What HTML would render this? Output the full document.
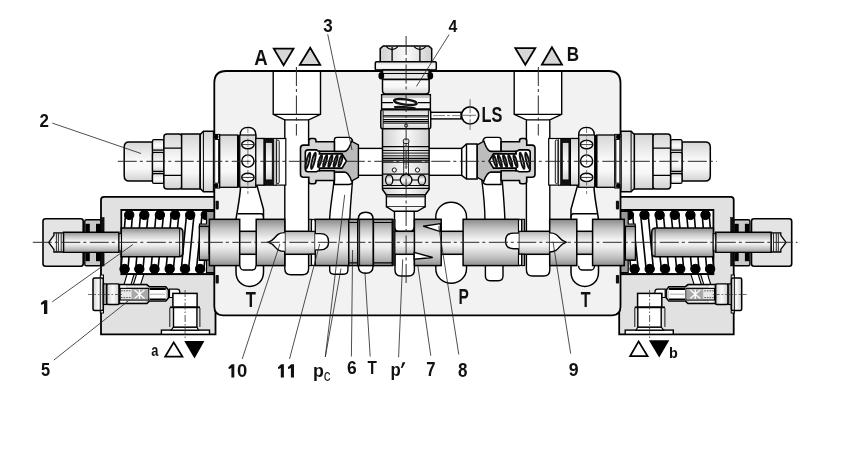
<!DOCTYPE html>
<html><head><meta charset="utf-8"><style>
html,body{margin:0;padding:0;background:#fff;}
svg{display:block;will-change:transform;}
text{font-family:"Liberation Sans",sans-serif;font-weight:bold;fill:#111;}
</style></head><body>
<svg width="849" height="457" viewBox="0 0 849 457">
<defs>
<linearGradient id="gc" x1="0" y1="0" x2="0" y2="1">
<stop offset="0" stop-color="#8a8a8a"/><stop offset="0.2" stop-color="#c4c4c4"/><stop offset="0.45" stop-color="#f6f6f6"/><stop offset="0.6" stop-color="#eeeeee"/><stop offset="0.85" stop-color="#bbbbbb"/><stop offset="1" stop-color="#8e8e8e"/>
</linearGradient>
<linearGradient id="gl" x1="0" y1="0" x2="0" y2="1">
<stop offset="0" stop-color="#d6d6d6"/><stop offset="0.5" stop-color="#fbfbfb"/><stop offset="0.7" stop-color="#f7f7f7"/><stop offset="1" stop-color="#d2d2d2"/>
</linearGradient>
<linearGradient id="gv" x1="0" y1="0" x2="1" y2="0">
<stop offset="0" stop-color="#cfcfcf"/><stop offset="0.5" stop-color="#fbfbfb"/><stop offset="1" stop-color="#cfcfcf"/>
</linearGradient>
<linearGradient id="gn" x1="0" y1="0" x2="0" y2="1">
<stop offset="0" stop-color="#b4b4b4"/><stop offset="0.25" stop-color="#dcdcdc"/><stop offset="0.5" stop-color="#f8f8f8"/><stop offset="0.62" stop-color="#f2f2f2"/><stop offset="0.85" stop-color="#cfcfcf"/><stop offset="1" stop-color="#adadad"/>
</linearGradient>
</defs>

<!-- housings -->
<g stroke="#000">
<path d="M101,334.3 V199.8 Q101,196.8 104,196.8 H215.5 V334.3 Z" fill="#e1e1e1" stroke-width="1.8"/>
<!-- spring bore -->
<rect x="121.3" y="209.9" width="94" height="64.3" fill="#fff" stroke-width="1.8"/>
<!-- strands -->
<g fill="#fff" stroke-width="1.6">
<path d="M125.5,215 L132.5,215 L128,269 L121,269 Z"/>
<path d="M140.5,215 L148,215 L143,269 L135.7,269 Z"/>
<path d="M156,215 L163.5,215 L158,269 L151,269 Z"/>
<path d="M171.3,215 L178.8,215 L173.4,269 L166,269 Z"/>
<path d="M186.5,215 L194,215 L188.6,269 L181.3,269 Z"/>
<path d="M202,215 L209.5,215 L203.8,269 L196.5,269 Z"/>
</g>
<g fill="#000">
<circle cx="129.2" cy="214.9" r="4.7"/><circle cx="144.3" cy="214.9" r="4.7"/><circle cx="159.9" cy="214.9" r="4.7"/>
<circle cx="175.1" cy="214.9" r="4.7"/><circle cx="190.2" cy="214.9" r="4.7"/><circle cx="205.8" cy="214.9" r="4.7"/>
<circle cx="124.6" cy="269" r="4.7"/><circle cx="139.3" cy="269" r="4.7"/><circle cx="154.5" cy="269" r="4.7"/>
<circle cx="169.7" cy="269" r="4.7"/><circle cx="185" cy="269" r="4.7"/><circle cx="200.1" cy="269" r="4.7"/>
</g>
<path d="M121.3,209.9 H215 M121.3,274.2 H215" stroke-width="1.8"/>
<!-- spring seat washer -->
<path d="M206.5,211.5 H215 V228 H199.5 V224 H206.5 Z" fill="#9a9a9a" stroke-width="1.2"/>
<path d="M206.5,272.5 H215 V256.5 H199.5 V260.5 H206.5 Z" fill="#9a9a9a" stroke-width="1.2"/>
<rect x="199.3" y="226.3" width="10" height="33.7" fill="url(#gc)" stroke-width="1.3"/>
<!-- retainer -->
<path d="M121.3,228 H179 Q182.9,228 182.9,232 V252.7 Q182.9,256.7 179,256.7 H121.3 Z" fill="url(#gc)" stroke-width="1.5"/>
<path d="M179.6,228.5 V256.2" stroke-width="0.9"/>
<!-- cap nut -->
<rect x="43" y="218.8" width="40.2" height="47.4" rx="2.5" fill="#e4e4e4" stroke-width="1.6"/>
<!-- rod end inside cap -->
<path d="M48.7,242.4 L53.9,235.4 V232.8 H63.6 V252 H53.9 V249.4 Z" fill="url(#gl)" stroke-width="1.3"/>
<path d="M56.4,233.2 V251.6 M58.4,233.2 V251.6 M61.2,233.2 V251.6" stroke-width="0.8"/>
<!-- seal piece -->
<rect x="84.8" y="219.7" width="16" height="46" rx="1.5" fill="#c9c9c9" stroke-width="1.4"/>
<rect x="85.5" y="223.8" width="4.3" height="8.2" fill="#000" stroke-width="0"/>
<rect x="96" y="223.8" width="4.3" height="8.2" fill="#000" stroke-width="0"/>
<rect x="85.5" y="253" width="4.3" height="8.2" fill="#000" stroke-width="0"/>
<rect x="96" y="253" width="4.3" height="8.2" fill="#000" stroke-width="0"/>
<rect x="100.8" y="217.5" width="3.3" height="14.7" fill="#111" stroke-width="0.5"/>
<rect x="100.8" y="252.4" width="3.3" height="13.6" fill="#111" stroke-width="0.5"/>
<!-- rod -->
<path d="M119,232.2 H63.6 V252.4 H119 Z" fill="url(#gc)" stroke-width="1.4"/>
<rect x="119" y="233.5" width="2.5" height="17.6" fill="url(#gc)" stroke-width="1"/>
<!-- diagonal passages -->
<path d="M127,274.5 H134 L131,284.5 H124 Z M136.5,274.5 H143.8 L140.6,284.5 H133.4 Z" fill="#fff" stroke-width="1.1"/>
<!-- pilot valve (item 5) -->
<rect x="100.3" y="275" width="3.2" height="38" fill="#f0f0f0" stroke-width="1"/>
<rect x="93" y="278" width="10.3" height="32.4" rx="1.5" fill="url(#gv)" stroke-width="1.5"/>
<path d="M100.3,278.5 V310" stroke-width="0.9"/>
<rect x="103.3" y="283.9" width="3.5" height="20.6" fill="#999" stroke-width="1.2"/>
<rect x="106.8" y="283.9" width="12.4" height="20.6" rx="1.5" fill="url(#gv)" stroke-width="1.4"/>
<path d="M119.2,284.6 H146.8 L149.5,286.8 H165.8 L168.5,290 V298 L165.8,301 H149.5 L146.8,303.6 H119.2 Z" fill="#c8c8c8" stroke-width="1.5"/>
<rect x="121" y="285.7" width="5.2" height="2" fill="#fff" stroke-width="0"/>
<rect x="121" y="300.3" width="5.2" height="2" fill="#fff" stroke-width="0"/>
<path d="M127.5,286.6 H146 M127.5,301.6 H146" stroke="#f2f2f2" stroke-width="1"/>
<rect x="120.2" y="288.4" width="28.6" height="11.6" fill="#e8e8e8" stroke-width="1.1"/>
<path d="M121,290.8 H131 M121,297.6 H131" stroke="#444" stroke-width="0.9" stroke-dasharray="1.6,1"/>
<rect x="131.5" y="289.2" width="16.5" height="10" fill="#a9a9a9" stroke-width="0"/>
<path d="M134.5,290 L144.5,298.4 M134.5,298.4 L144.5,290 M139.5,289.5 V299" stroke="#fff" stroke-width="1.3"/>
<rect x="149.5" y="288.2" width="16.3" height="12" fill="#fff" stroke-width="0"/>
<path d="M149.5,289 H165.8 M149.5,299.4 H165.8" stroke-width="1.8"/>
<path d="M150,294.2 H165" stroke="#999" stroke-width="0.8"/>
<!-- passage to port -->
<path d="M169.5,289.2 H177 Q179.8,289.2 179.8,292 V293.6 H173 V297.5 H169.5 Z" fill="#fff" stroke-width="1.2"/>
<!-- port a -->
<rect x="161.4" y="330.1" width="48.1" height="4.2" fill="#fff" stroke-width="1.4"/>
<path d="M171,330.1 L173.5,327.1 H196.9 L198.7,330.1 Z" fill="#fff" stroke-width="1.1"/>
<rect x="173.5" y="307.3" width="23.4" height="19.8" fill="#fff" stroke-width="1.4"/>
<path d="M169.8,308 V327 M199.9,308 V327" stroke-width="0.9"/>
<rect x="172.9" y="293.4" width="24.2" height="13.9" fill="#fff" stroke-width="1.5"/>
<path d="M169.8,307.3 H200" stroke-width="1.8"/>
<path d="M185.1,290 V338" stroke="#333" stroke-width="0.8" stroke-dasharray="7,2,1.5,2"/>
<path d="M88,294.5 H122" stroke="#333" stroke-width="0.7" stroke-dasharray="8,2,1.5,2"/>
</g>
<g transform="matrix(-1,0,0,1,834.7,0)" stroke="#000">
<path d="M101,334.3 V199.8 Q101,196.8 104,196.8 H215.5 V334.3 Z" fill="#e1e1e1" stroke-width="1.8"/>
<!-- spring bore -->
<rect x="121.3" y="209.9" width="94" height="64.3" fill="#fff" stroke-width="1.8"/>
<!-- strands -->
<g fill="#fff" stroke-width="1.6">
<path d="M125.5,215 L132.5,215 L128,269 L121,269 Z"/>
<path d="M140.5,215 L148,215 L143,269 L135.7,269 Z"/>
<path d="M156,215 L163.5,215 L158,269 L151,269 Z"/>
<path d="M171.3,215 L178.8,215 L173.4,269 L166,269 Z"/>
<path d="M186.5,215 L194,215 L188.6,269 L181.3,269 Z"/>
<path d="M202,215 L209.5,215 L203.8,269 L196.5,269 Z"/>
</g>
<g fill="#000">
<circle cx="129.2" cy="214.9" r="4.7"/><circle cx="144.3" cy="214.9" r="4.7"/><circle cx="159.9" cy="214.9" r="4.7"/>
<circle cx="175.1" cy="214.9" r="4.7"/><circle cx="190.2" cy="214.9" r="4.7"/><circle cx="205.8" cy="214.9" r="4.7"/>
<circle cx="124.6" cy="269" r="4.7"/><circle cx="139.3" cy="269" r="4.7"/><circle cx="154.5" cy="269" r="4.7"/>
<circle cx="169.7" cy="269" r="4.7"/><circle cx="185" cy="269" r="4.7"/><circle cx="200.1" cy="269" r="4.7"/>
</g>
<path d="M121.3,209.9 H215 M121.3,274.2 H215" stroke-width="1.8"/>
<!-- spring seat washer -->
<path d="M206.5,211.5 H215 V228 H199.5 V224 H206.5 Z" fill="#9a9a9a" stroke-width="1.2"/>
<path d="M206.5,272.5 H215 V256.5 H199.5 V260.5 H206.5 Z" fill="#9a9a9a" stroke-width="1.2"/>
<rect x="199.3" y="226.3" width="10" height="33.7" fill="url(#gc)" stroke-width="1.3"/>
<!-- retainer -->
<path d="M121.3,228 H179 Q182.9,228 182.9,232 V252.7 Q182.9,256.7 179,256.7 H121.3 Z" fill="url(#gc)" stroke-width="1.5"/>
<path d="M179.6,228.5 V256.2" stroke-width="0.9"/>
<!-- cap nut -->
<rect x="43" y="218.8" width="40.2" height="47.4" rx="2.5" fill="#e4e4e4" stroke-width="1.6"/>
<!-- rod end inside cap -->
<path d="M48.7,242.4 L53.9,235.4 V232.8 H63.6 V252 H53.9 V249.4 Z" fill="url(#gl)" stroke-width="1.3"/>
<path d="M56.4,233.2 V251.6 M58.4,233.2 V251.6 M61.2,233.2 V251.6" stroke-width="0.8"/>
<!-- seal piece -->
<rect x="84.8" y="219.7" width="16" height="46" rx="1.5" fill="#c9c9c9" stroke-width="1.4"/>
<rect x="85.5" y="223.8" width="4.3" height="8.2" fill="#000" stroke-width="0"/>
<rect x="96" y="223.8" width="4.3" height="8.2" fill="#000" stroke-width="0"/>
<rect x="85.5" y="253" width="4.3" height="8.2" fill="#000" stroke-width="0"/>
<rect x="96" y="253" width="4.3" height="8.2" fill="#000" stroke-width="0"/>
<rect x="100.8" y="217.5" width="3.3" height="14.7" fill="#111" stroke-width="0.5"/>
<rect x="100.8" y="252.4" width="3.3" height="13.6" fill="#111" stroke-width="0.5"/>
<!-- rod -->
<path d="M119,232.2 H63.6 V252.4 H119 Z" fill="url(#gc)" stroke-width="1.4"/>
<rect x="119" y="233.5" width="2.5" height="17.6" fill="url(#gc)" stroke-width="1"/>
<!-- diagonal passages -->
<path d="M127,274.5 H134 L131,284.5 H124 Z M136.5,274.5 H143.8 L140.6,284.5 H133.4 Z" fill="#fff" stroke-width="1.1"/>
<!-- pilot valve (item 5) -->
<rect x="100.3" y="275" width="3.2" height="38" fill="#f0f0f0" stroke-width="1"/>
<rect x="93" y="278" width="10.3" height="32.4" rx="1.5" fill="url(#gv)" stroke-width="1.5"/>
<path d="M100.3,278.5 V310" stroke-width="0.9"/>
<rect x="103.3" y="283.9" width="3.5" height="20.6" fill="#999" stroke-width="1.2"/>
<rect x="106.8" y="283.9" width="12.4" height="20.6" rx="1.5" fill="url(#gv)" stroke-width="1.4"/>
<path d="M119.2,284.6 H146.8 L149.5,286.8 H165.8 L168.5,290 V298 L165.8,301 H149.5 L146.8,303.6 H119.2 Z" fill="#c8c8c8" stroke-width="1.5"/>
<rect x="121" y="285.7" width="5.2" height="2" fill="#fff" stroke-width="0"/>
<rect x="121" y="300.3" width="5.2" height="2" fill="#fff" stroke-width="0"/>
<path d="M127.5,286.6 H146 M127.5,301.6 H146" stroke="#f2f2f2" stroke-width="1"/>
<rect x="120.2" y="288.4" width="28.6" height="11.6" fill="#e8e8e8" stroke-width="1.1"/>
<path d="M121,290.8 H131 M121,297.6 H131" stroke="#444" stroke-width="0.9" stroke-dasharray="1.6,1"/>
<rect x="131.5" y="289.2" width="16.5" height="10" fill="#a9a9a9" stroke-width="0"/>
<path d="M134.5,290 L144.5,298.4 M134.5,298.4 L144.5,290 M139.5,289.5 V299" stroke="#fff" stroke-width="1.3"/>
<rect x="149.5" y="288.2" width="16.3" height="12" fill="#fff" stroke-width="0"/>
<path d="M149.5,289 H165.8 M149.5,299.4 H165.8" stroke-width="1.8"/>
<path d="M150,294.2 H165" stroke="#999" stroke-width="0.8"/>
<!-- passage to port -->
<path d="M169.5,289.2 H177 Q179.8,289.2 179.8,292 V293.6 H173 V297.5 H169.5 Z" fill="#fff" stroke-width="1.2"/>
<!-- port a -->
<rect x="161.4" y="330.1" width="48.1" height="4.2" fill="#fff" stroke-width="1.4"/>
<path d="M171,330.1 L173.5,327.1 H196.9 L198.7,330.1 Z" fill="#fff" stroke-width="1.1"/>
<rect x="173.5" y="307.3" width="23.4" height="19.8" fill="#fff" stroke-width="1.4"/>
<path d="M169.8,308 V327 M199.9,308 V327" stroke-width="0.9"/>
<rect x="172.9" y="293.4" width="24.2" height="13.9" fill="#fff" stroke-width="1.5"/>
<path d="M169.8,307.3 H200" stroke-width="1.8"/>
<path d="M185.1,290 V338" stroke="#333" stroke-width="0.8" stroke-dasharray="7,2,1.5,2"/>
<path d="M88,294.5 H122" stroke="#333" stroke-width="0.7" stroke-dasharray="8,2,1.5,2"/>
</g>
<!-- main body -->
<path d="M226.3,71 H608.5 Q620.5,71 620.5,83 V306.5 Q620.5,315.3 612,315.3 H223 Q214.3,315.3 214.3,306.5 V83 Q214.3,71 226.3,71 Z" fill="#f2f2f2" stroke="#000" stroke-width="1.8"/>

<!-- cavities -->
<g fill="#fff" stroke="#000" stroke-width="1.4">
<!-- horizontal channel -->
<rect x="340" y="148.4" width="150" height="26.9"/>
<!-- LS channel -->
<rect x="425" y="112.3" width="36" height="6.6"/>
<!-- port A -->
<path d="M273.2,71 V114.4 L284.8,119.9 V268.5 Q284.8,274.8 291,274.8 H302.5 Q308.6,274.8 308.6,268.5 V119.9 L320.5,114.4 V71 Z"/>
<path d="M273.2,114.4 H320.5 M284.8,119.9 H308.6" fill="none"/>
<!-- port B -->
<path d="M514.2,71 V114.4 L526.4,119.9 V269.8 Q526.4,276 532.5,276 H543.7 Q549.8,276 549.8,269.8 V119.9 L561.7,114.4 V71 Z"/>
<path d="M514.2,114.4 H561.7 M526.4,119.9 H549.8" fill="none"/>
<!-- P chamber -->
<rect x="435.8" y="202.3" width="30.7" height="80.9" rx="15.3" ry="14.5"/>
<!-- T capsule -->
<path d="M358.4,219 Q358.4,212.3 365.7,212.3 Q373,212.3 373,219 V266.5 Q373,273.2 365.7,273.2 Q358.4,273.2 358.4,266.5 Z"/>
<!-- stem cavity below -->
<path d="M395,254 V270 Q395,276 401,276 H408.4 Q414.4,276 414.4,270 V254"/>
<!-- small cavities -->
<path d="M329.7,262 V270 Q329.7,274.2 334,274.2 H343.6 Q347.9,274.2 347.9,270 V262"/>
<path d="M485.4,262 V276 Q485.4,280.7 490,280.7 H498.5 Q503,280.7 503,276 V262"/>
<!-- curved channels from check valves -->
<path d="M334.4,176 C333,195 330,205 329.5,222 H349.8 C350,205 352,192 352.7,176 Z"/>
<path d="M481.3,176 C483.5,192 485,205 485,222 H505 C504.5,205 503,192 502,176 Z"/>
</g>

<path d="M262,71 H330 M505,71 H572" stroke="#000" stroke-width="1.8"/>
<!-- check valve left (item 3) -->
<g stroke="#000">
<path d="M334.4,151.5 V140 Q334.4,137.4 337,137.4 H349 Q351.5,137.4 352.5,140.5 L348.5,151.5 Z" fill="#fff" stroke-width="1.4"/>
<path d="M334.4,172 H348.5 L352.5,182 Q351.5,184.5 349,184.5 H334.4 Z" fill="#fff" stroke-width="1.4"/>
<path d="M303.5,145.1 H308.8 V141 Q308.8,138.5 311,138.5 H314 Q316,138.5 316,141 V141.8 H334.4 V180.5 H316 V181.3 Q316,183.8 314,183.8 H311 Q308.8,183.8 308.8,181.3 V177.2 H303.5 Q300.5,177.2 300.5,174.2 V148.1 Q300.5,145.1 303.5,145.1 Z" fill="#d6d6d6" stroke-width="1.6"/>
<path d="M319.4,151.3 H334.4 V151.5 H344 Q348.5,151.5 351.5,141.2 L358.4,144.9 V177.3 L351.5,181 Q348.5,172 344,172 H334.4 V170.7 H319.4 Z" fill="#bcbcbc" stroke-width="1.4"/>
<path d="M308,149.9 H316.5 Q318,151.3 319.4,151.3 V153.9 H342 L346.4,161 L342,168.1 H319.4 V170.7 Q318,170.7 316.5,171.7 H308 Q305.3,171.7 305.3,169 V152.6 Q305.3,149.9 308,149.9 Z" fill="#fff" stroke-width="1.6"/>
<g fill="#e8e8e8" stroke="#111" stroke-width="1.9">
<ellipse cx="307.9" cy="160.8" rx="1.3" ry="8.4" transform="rotate(14 307.9 160.8)"/>
<ellipse cx="313.4" cy="160.8" rx="1.3" ry="8.4" transform="rotate(14 313.4 160.8)"/>
<ellipse cx="320" cy="161" rx="1.1" ry="6.4" transform="rotate(16 320 161)"/>
<ellipse cx="325.2" cy="161" rx="1.1" ry="6.4" transform="rotate(16 325.2 161)"/>
<ellipse cx="330.4" cy="161" rx="1.1" ry="6.4" transform="rotate(16 330.4 161)"/>
<ellipse cx="335.6" cy="161" rx="1.1" ry="6.4" transform="rotate(16 335.6 161)"/>
<ellipse cx="340.5" cy="161" rx="1.2" ry="6" transform="rotate(16 340.5 161)"/>
</g>
</g>
<g transform="matrix(-1,0,0,1,835.5,0)" stroke="#000">
<path d="M334.4,151.5 V140 Q334.4,137.4 337,137.4 H349 Q351.5,137.4 352.5,140.5 L348.5,151.5 Z" fill="#fff" stroke-width="1.4"/>
<path d="M334.4,172 H348.5 L352.5,182 Q351.5,184.5 349,184.5 H334.4 Z" fill="#fff" stroke-width="1.4"/>
<path d="M303.5,145.1 H308.8 V141 Q308.8,138.5 311,138.5 H314 Q316,138.5 316,141 V141.8 H334.4 V180.5 H316 V181.3 Q316,183.8 314,183.8 H311 Q308.8,183.8 308.8,181.3 V177.2 H303.5 Q300.5,177.2 300.5,174.2 V148.1 Q300.5,145.1 303.5,145.1 Z" fill="#d6d6d6" stroke-width="1.6"/>
<path d="M319.4,151.3 H334.4 V151.5 H344 Q348.5,151.5 351.5,141.2 L358.4,144.9 V177.3 L351.5,181 Q348.5,172 344,172 H334.4 V170.7 H319.4 Z" fill="#bcbcbc" stroke-width="1.4"/>
<path d="M308,149.9 H316.5 Q318,151.3 319.4,151.3 V153.9 H342 L346.4,161 L342,168.1 H319.4 V170.7 Q318,170.7 316.5,171.7 H308 Q305.3,171.7 305.3,169 V152.6 Q305.3,149.9 308,149.9 Z" fill="#fff" stroke-width="1.6"/>
<g fill="#e8e8e8" stroke="#111" stroke-width="1.9">
<ellipse cx="307.9" cy="160.8" rx="1.3" ry="8.4" transform="rotate(14 307.9 160.8)"/>
<ellipse cx="313.4" cy="160.8" rx="1.3" ry="8.4" transform="rotate(14 313.4 160.8)"/>
<ellipse cx="320" cy="161" rx="1.1" ry="6.4" transform="rotate(16 320 161)"/>
<ellipse cx="325.2" cy="161" rx="1.1" ry="6.4" transform="rotate(16 325.2 161)"/>
<ellipse cx="330.4" cy="161" rx="1.1" ry="6.4" transform="rotate(16 330.4 161)"/>
<ellipse cx="335.6" cy="161" rx="1.1" ry="6.4" transform="rotate(16 335.6 161)"/>
<ellipse cx="340.5" cy="161" rx="1.2" ry="6" transform="rotate(16 340.5 161)"/>
</g>
</g>
<path d="M477,144 H466.5 L461.7,148.4 V175.3 L466.5,179 H477 Z" fill="#fff" stroke="#000" stroke-width="1.5"/>
<path d="M466.5,144 V179" stroke="#000" stroke-width="1.4"/>

<!-- seals on body face -->
<g fill="#111">
<rect x="215.6" y="200.8" width="3.2" height="8.6" rx="0.8"/>
<rect x="215.6" y="275" width="3.2" height="8.6" rx="0.8"/>
<rect x="615.9" y="200.8" width="3.2" height="8.6" rx="0.8"/>
<rect x="615.9" y="275" width="3.2" height="8.6" rx="0.8"/>
</g>
<!-- left plug + detent assembly (item 2) -->
<g stroke="#000">
<!-- detent bore and passage (white) -->
<path d="M240.2,187 V135.2 Q240.2,127.4 248,127.4 Q255.8,127.4 255.8,135.2 V187 Z" fill="#fff" stroke-width="1.4"/>
<path d="M240.6,186.4 C240,198 237.5,209 236,219.3 V272 C236,281 242,286.4 249.6,286.4 C257.2,286.4 263.5,281 263.5,272 V209.4 L257.2,186.4 Z" fill="#fff" stroke-width="1.5"/>
<path d="M237.6,213.8 H261 Q263.5,213.8 263.5,217.5" fill="none" stroke-width="1.4"/>
<path d="M239.9,265.8 Q240.3,270 243.5,270 H252.5 Q255.7,270 255.9,265.8" fill="none" stroke-width="1.3"/>
<!-- bore white to port A -->
<rect x="255.8" y="138.5" width="30" height="46.6" fill="#fff" stroke-width="1.2"/>
<!-- cap -->
<path d="M152.5,142.1 H129.2 Q124.2,142.1 124.2,147.1 V175.9 Q124.2,180.9 129.2,180.9 H152.5 Z" fill="url(#gl)" stroke-width="1.5"/>
<!-- small hex -->
<g fill="url(#gl)" stroke-width="1.3">
<rect x="152.5" y="139.6" width="11.4" height="10.6" rx="1.5"/>
<rect x="152.5" y="152.4" width="11.4" height="19" rx="1.5"/>
<rect x="152.5" y="173.5" width="11.4" height="9.9" rx="1.5"/>
</g>
<!-- big hex -->
<rect x="163.9" y="134" width="18" height="55" rx="3" fill="url(#gl)" stroke-width="1.5"/>
<path d="M163.9,148.1 H181.6 M163.9,175.3 H181.6" stroke-width="1.3"/>
<!-- body -->
<rect x="181.6" y="134" width="18.6" height="55" fill="url(#gl)" stroke-width="1.5"/>
<!-- flange -->
<path d="M200.2,134.6 L203.4,131.3 H213.6 V191.8 H203.4 L200.2,188.5 Z" fill="url(#gl)" stroke-width="1.5"/>
<path d="M203.4,132 V191" stroke-width="1"/>
<!-- o-ring section -->
<rect x="213.6" y="134.4" width="6.1" height="53.7" fill="#fafafa" stroke-width="1"/>
<rect x="213.8" y="134.4" width="4.6" height="4.8" rx="1.6" fill="#000" stroke-width="0"/>
<rect x="213.8" y="183.3" width="4.6" height="4.8" rx="1.6" fill="#000" stroke-width="0"/>
<rect x="214.7" y="139.5" width="3.9" height="43.6" fill="#fff" stroke-width="0.9"/>
<!-- section -->
<rect x="219.7" y="135" width="18" height="52.3" fill="url(#gl)" stroke-width="1.3"/>
<rect x="237.4" y="135" width="2.4" height="52.3" fill="#000" stroke-width="0"/>
<!-- detent section -->
<rect x="239.8" y="135" width="16" height="52.3" fill="url(#gl)" stroke-width="1.2"/>
<g fill="#fff" stroke-width="1.4">
<ellipse cx="247.9" cy="144.6" rx="6.2" ry="4.2"/>
<circle cx="247.9" cy="161" r="6.1"/>
<ellipse cx="247.9" cy="177.4" rx="6.2" ry="4.2"/>
</g>
<path d="M247.9,128 V194" stroke="#444" stroke-width="0.7" stroke-dasharray="5,2,1.5,2"/>
<path d="M241.7,144.6 H254.1 M241.7,177.4 H254.1" stroke="#222" stroke-width="0.9"/>
<!-- next section -->
<rect x="255.8" y="138.5" width="8.3" height="46.6" fill="url(#gl)" stroke-width="1.2"/>
<rect x="264.1" y="138.5" width="9.7" height="46.4" fill="#111" stroke-width="0.8"/>
<rect x="265.6" y="142.6" width="6.6" height="37.3" fill="url(#gl)" stroke-width="0.7"/>
<rect x="273.8" y="138.5" width="2.4" height="46.6" fill="#eee" stroke-width="0.8"/>
<rect x="276.6" y="140" width="2.6" height="43.6" rx="1.3" fill="#f4f4f4" stroke-width="0.9"/>
</g>
<g transform="matrix(-1,0,0,1,834.5,0)" stroke="#000">
<!-- detent bore and passage (white) -->
<path d="M240.2,187 V135.2 Q240.2,127.4 248,127.4 Q255.8,127.4 255.8,135.2 V187 Z" fill="#fff" stroke-width="1.4"/>
<path d="M240.6,186.4 C240,198 237.5,209 236,219.3 V272 C236,281 242,286.4 249.6,286.4 C257.2,286.4 263.5,281 263.5,272 V209.4 L257.2,186.4 Z" fill="#fff" stroke-width="1.5"/>
<path d="M237.6,213.8 H261 Q263.5,213.8 263.5,217.5" fill="none" stroke-width="1.4"/>
<path d="M239.9,265.8 Q240.3,270 243.5,270 H252.5 Q255.7,270 255.9,265.8" fill="none" stroke-width="1.3"/>
<!-- bore white to port A -->
<rect x="255.8" y="138.5" width="30" height="46.6" fill="#fff" stroke-width="1.2"/>
<!-- cap -->
<path d="M152.5,142.1 H129.2 Q124.2,142.1 124.2,147.1 V175.9 Q124.2,180.9 129.2,180.9 H152.5 Z" fill="url(#gl)" stroke-width="1.5"/>
<!-- small hex -->
<g fill="url(#gl)" stroke-width="1.3">
<rect x="152.5" y="139.6" width="11.4" height="10.6" rx="1.5"/>
<rect x="152.5" y="152.4" width="11.4" height="19" rx="1.5"/>
<rect x="152.5" y="173.5" width="11.4" height="9.9" rx="1.5"/>
</g>
<!-- big hex -->
<rect x="163.9" y="134" width="18" height="55" rx="3" fill="url(#gl)" stroke-width="1.5"/>
<path d="M163.9,148.1 H181.6 M163.9,175.3 H181.6" stroke-width="1.3"/>
<!-- body -->
<rect x="181.6" y="134" width="18.6" height="55" fill="url(#gl)" stroke-width="1.5"/>
<!-- flange -->
<path d="M200.2,134.6 L203.4,131.3 H213.6 V191.8 H203.4 L200.2,188.5 Z" fill="url(#gl)" stroke-width="1.5"/>
<path d="M203.4,132 V191" stroke-width="1"/>
<!-- o-ring section -->
<rect x="213.6" y="134.4" width="6.1" height="53.7" fill="#fafafa" stroke-width="1"/>
<rect x="213.8" y="134.4" width="4.6" height="4.8" rx="1.6" fill="#000" stroke-width="0"/>
<rect x="213.8" y="183.3" width="4.6" height="4.8" rx="1.6" fill="#000" stroke-width="0"/>
<rect x="214.7" y="139.5" width="3.9" height="43.6" fill="#fff" stroke-width="0.9"/>
<!-- section -->
<rect x="219.7" y="135" width="18" height="52.3" fill="url(#gl)" stroke-width="1.3"/>
<rect x="237.4" y="135" width="2.4" height="52.3" fill="#000" stroke-width="0"/>
<!-- detent section -->
<rect x="239.8" y="135" width="16" height="52.3" fill="url(#gl)" stroke-width="1.2"/>
<g fill="#fff" stroke-width="1.4">
<ellipse cx="247.9" cy="144.6" rx="6.2" ry="4.2"/>
<circle cx="247.9" cy="161" r="6.1"/>
<ellipse cx="247.9" cy="177.4" rx="6.2" ry="4.2"/>
</g>
<path d="M247.9,128 V194" stroke="#444" stroke-width="0.7" stroke-dasharray="5,2,1.5,2"/>
<path d="M241.7,144.6 H254.1 M241.7,177.4 H254.1" stroke="#222" stroke-width="0.9"/>
<!-- next section -->
<rect x="255.8" y="138.5" width="8.3" height="46.6" fill="url(#gl)" stroke-width="1.2"/>
<rect x="264.1" y="138.5" width="9.7" height="46.4" fill="#111" stroke-width="0.8"/>
<rect x="265.6" y="142.6" width="6.6" height="37.3" fill="url(#gl)" stroke-width="0.7"/>
<rect x="273.8" y="138.5" width="2.4" height="46.6" fill="#eee" stroke-width="0.8"/>
<rect x="276.6" y="140" width="2.6" height="43.6" rx="1.3" fill="#f4f4f4" stroke-width="0.9"/>
</g>


<!-- cartridge (item 4) -->
<g stroke="#000">
<!-- stem cavity above neck -->
<path d="M394.5,210 V226 Q394.5,231.5 399,231.5 H410 Q414.2,231.5 414.2,226 V210" fill="#fff" stroke-width="1.4"/>
<!-- hex nut -->
<path d="M380.2,61.7 V48.6 L383.2,45.9 H428.7 L431.7,48.6 V61.7 Z" fill="url(#gv)" stroke-width="1.5"/>
<path d="M392.1,47 V61.7 M419.9,47 V61.7" stroke-width="1.3"/>
<path d="M386,46.3 Q392.1,53 398.2,46.3 M413.8,46.3 Q419.9,53 426,46.3" fill="none" stroke-width="1.1"/>
<!-- flange -->
<rect x="375.3" y="61.7" width="61" height="8.4" rx="1.2" fill="url(#gl)" stroke-width="1.5"/>
<!-- upper body -->
<path d="M382.5,70 H429.1 V90.5 Q429.1,93.9 426,93.9 H385.6 Q382.5,93.9 382.5,90.5 Z" fill="url(#gl)" stroke-width="1.5"/>
<path d="M382.5,73.5 H429.1" stroke-width="1.1"/>
<path d="M382.5,79.4 H429.1" stroke-width="1.9"/>
<ellipse cx="381.3" cy="75.8" rx="2.9" ry="3.8" fill="#000" stroke-width="0"/>
<ellipse cx="430.3" cy="75.8" rx="2.9" ry="3.8" fill="#000" stroke-width="0"/>
<!-- spring band -->
<rect x="381.6" y="94.6" width="48.8" height="15.1" fill="#f6f6f6" stroke-width="1.4"/>
<path d="M381.6,97 H430.4" stroke="#888" stroke-width="0.9"/><path d="M381.6,102.6 H393 M418,102.6 H430.4 M381.6,108.8 H430.4" stroke-width="1.1"/>
<ellipse cx="405.4" cy="102" rx="11.4" ry="2.6" transform="rotate(7 405.4 102)" fill="#fff" stroke="#111" stroke-width="2.3"/>
<path d="M394.2,107.4 Q396,106.5 405,107.1 L415.5,108.3" fill="none" stroke="#111" stroke-width="2.3"/>
<!-- flange 2 -->
<rect x="380.8" y="109.7" width="49.9" height="19" rx="2" fill="url(#gl)" stroke-width="1.5"/>
<path d="M383.1,115.6 H428.4 M383.1,116.9 H428.4 M383.1,123.2 H428.4" stroke-width="0.9"/>
<path d="M383.1,119.6 H428.4 M383.1,121.6 H428.4" stroke-width="1.4"/>
<path d="M383.1,110.5 V128 M428.4,110.5 V128" stroke-width="0.9"/>
<!-- middle body -->
<path d="M382.5,128.7 H429.1 V189.5 L425.2,194.9 H386.4 L382.5,189.5 Z" fill="url(#gv)" stroke-width="1.5"/>
<path d="M382.5,146.6 H429.1" stroke-width="1.2"/>
<path d="M382.5,150.5 H429.1 M382.5,153.1 H429.1 M382.5,155.8 H429.1 M382.5,160.4 H429.1 M382.5,162.3 H429.1" stroke-width="0.9"/>
<path d="M382.5,158.4 H429.1" stroke-width="1.5"/>
<path d="M382.5,174.1 H429.1 M382.5,185.5 H429.1 M382.5,188.3 H429.1" stroke-width="1.2"/>
<circle cx="394.3" cy="170" r="2.1" fill="#fff" stroke-width="0.9"/>
<circle cx="417.5" cy="170" r="2.1" fill="#fff" stroke-width="0.9"/>
<path d="M388,180 H424" stroke-width="1"/>
<ellipse cx="389.2" cy="180" rx="3.6" ry="5.2" fill="url(#gc)" stroke-width="1.3"/>
<circle cx="406.1" cy="180" r="5.8" fill="url(#gc)" stroke-width="1.3"/>
<ellipse cx="421.9" cy="180" rx="3.6" ry="5.2" fill="url(#gc)" stroke-width="1.3"/>
<path d="M403.7,143 V176 M408.5,143 V176" stroke-width="0.8"/>
<rect x="403.3" y="139" width="5.6" height="4.5" rx="1.5" fill="#ddd" stroke-width="0.9"/>
<path d="M403.7,146 H408.5 M403.7,149 H408.5 M403.7,152 H408.5 M403.7,155 H408.5 M403.7,158 H408.5 M403.7,161 H408.5 M403.7,164 H408.5 M403.7,167 H408.5" stroke="#666" stroke-width="0.7"/>
<circle cx="406.1" cy="125.6" r="1.6" fill="none" stroke-width="0.8"/>
<!-- lower section -->
<rect x="386.4" y="194.9" width="38.8" height="11.8" fill="#fafafa" stroke-width="1.4"/>
<path d="M386.4,196.8 H425.2" stroke-width="1"/>
<path d="M386.4,206.7 L393.6,211.3 H417.3 L425.2,206.7" fill="#f6f6f6" stroke-width="1.4"/>
</g>
<!-- LS -->
<circle cx="470.1" cy="115.4" r="8.6" fill="#fff" stroke="#000" stroke-width="1.7"/>
<path d="M470.1,99.2 V130 M462,115.3 H478.5" stroke="#666" stroke-width="0.9" stroke-dasharray="14,2,2,2"/>
<path d="M433,115.6 H461" stroke="#777" stroke-width="0.9" stroke-dasharray="12,2,3,2"/>

<!-- spool -->
<g stroke="#000" stroke-width="1.5">
<!-- necks -->
<rect x="209.4" y="231.3" width="414.8" height="23" fill="url(#gn)"/>
<!-- lands -->
<rect x="209.4" y="219.3" width="30.3" height="46.3" fill="url(#gc)"/>
<rect x="256.2" y="219.3" width="28.6" height="46.3" fill="url(#gc)"/>
<rect x="315.2" y="219.3" width="33.6" height="46.3" fill="url(#gc)"/>
<rect x="348.8" y="219.3" width="9" height="46.3" fill="url(#gc)" stroke-width="1.4"/>
<rect x="357.8" y="219.3" width="15.6" height="46.3" fill="url(#gc)"/>
<rect x="373.4" y="219.3" width="18.9" height="46.3" fill="url(#gc)"/>
<path d="M349.3,222.5 H357.8 M349.3,262.9 H357.8 M373.4,222.5 H392 M373.4,262.9 H392" stroke-width="1.1"/>
<path d="M359.6,219.3 V265.6" stroke-width="0.9"/>
<rect x="392.5" y="219.3" width="2.6" height="46.3" fill="#222" stroke-width="0.6"/>
<rect x="414.4" y="219.3" width="26.8" height="46.3" fill="url(#gc)"/>
<rect x="463.1" y="219.3" width="55.6" height="46.3" fill="url(#gc)"/>
<rect x="549.7" y="219.3" width="27.1" height="46.3" fill="url(#gc)"/>
<rect x="592.6" y="219.3" width="31.6" height="46.3" fill="url(#gc)"/>
</g>
<!-- snap rings -->
<g stroke="#000" stroke-width="1.1">
<rect x="308.6" y="219.3" width="2.9" height="12" fill="#9c9c9c"/>
<rect x="308.6" y="254.3" width="2.9" height="11.3" fill="#9c9c9c"/>
<path d="M311.5,231.3 V221.5 Q311.5,219.3 313.2,219.3 Q315.2,219.3 315.2,221.5 V231.3 Z M311.5,254.3 V263.4 Q311.5,265.6 313.2,265.6 Q315.2,265.6 315.2,263.4 V254.3 Z" fill="#fff"/>
<rect x="521.6" y="219.3" width="3" height="12" fill="#9c9c9c"/>
<rect x="521.6" y="254.3" width="3" height="11.3" fill="#9c9c9c"/>
<path d="M521.6,231.3 V221.5 Q521.6,219.3 520,219.3 Q518.5,219.3 518.5,221.5 V231.3 Z M521.6,254.3 V263.4 Q521.6,265.6 520,265.6 Q518.5,265.6 518.5,263.4 V254.3 Z" fill="#fff"/>
</g>
<!-- notches -->
<g fill="#fff" stroke="#000" stroke-width="1.4">
<path d="M284.8,232.6 C279,232.6 277,235 274.5,238 C272.5,240.5 270.5,241.2 268,242.2 C270.5,243.2 272.5,244 274.5,246.4 C277,249.4 279,251.4 284.8,251.4"/>
<path d="M549.7,232.9 C555.5,232.9 557.5,235.3 560,238.3 C562,240.8 564,241.2 566.2,242.2 C564,243.2 562,244 560,246.4 C557.5,249.4 555.5,252 549.7,252"/>
<path d="M440.4,223.6 L423.1,226.2 L440.4,231.6 Z"/>
<path d="M414.2,252.4 L432.7,257.5 L414.2,259.2 Z"/>
<path d="M315.2,233.6 H320.5 Q328.6,233.6 328.6,241.75 Q328.6,249.9 320.5,249.9 H315.2"/>
<path d="M518.7,233.1 H513.5 Q505.6,233.1 505.6,240.9 Q505.6,248.7 513.5,248.7 H518.7"/>
</g>
<!-- centerlines -->
<g stroke="#2a2a2a" stroke-width="1" stroke-dasharray="19,3,3,3.5" fill="none">
<line x1="32" y1="242.3" x2="797.5" y2="242.3" stroke-dashoffset="27.7"/>
<line x1="117.8" y1="161.3" x2="717" y2="161.3"/>
<line x1="296.4" y1="67" x2="296.4" y2="135.5"/>
<line x1="538.3" y1="67" x2="538.3" y2="135.5"/>
<line x1="406.1" y1="36" x2="406.1" y2="283"/>
</g>
<!-- labels -->
<g>
<path d="M44.3,300.2 H47.3 V313.9 H44.0 V303.8 L41.7,304.8 Q40.9,305.0 40.9,304.0 V303.4 Q40.9,302.6 41.7,302.3 Z" fill="#111"/>
<path d="M231.7,364.3 H234.3 V377.5 H231.4 V367.9 L229.3,368.9 Q228.5,369.1 228.5,368.1 V367.5 Q228.5,366.7 229.3,366.4 Z" fill="#111"/>
<text transform="translate(236.96 377.41) scale(0.974 1)" font-size="19.01">0</text>
<path d="M281.1,364.3 H283.9 V377.6 H280.8 V367.9 L278.8,368.9 Q278.0,369.1 278.0,368.1 V367.5 Q278.0,366.7 278.8,366.4 Z" fill="#111"/>
<path d="M291.2,364.3 H294.0 V377.6 H290.9 V367.9 L288.7,368.9 Q287.9,369.1 287.9,368.1 V367.5 Q287.9,366.7 288.7,366.4 Z" fill="#111"/>
<text transform="translate(39.59 127.3) scale(0.912 1)" font-size="18.57">2</text>
<text transform="translate(40.91 375.61) scale(0.87 1)" font-size="18.86">5</text>
<text transform="translate(323.16 32.01) scale(0.914 1)" font-size="18.59">3</text>
<text transform="translate(448.38 32.0) scale(0.927 1)" font-size="17.1">4</text>
<text transform="translate(312.95 377.05) scale(0.947 1)" font-size="18.8">p</text>
<text transform="translate(323.86 381.03) scale(0.815 1)" font-size="16.55" style="font-weight:normal">c</text>
<text transform="translate(346.9 374.41) scale(0.941 1)" font-size="18.59">6</text>
<text transform="translate(367.55 374.0) scale(0.81 1)" font-size="18.84">T</text>
<text transform="translate(390.42 376.42) scale(0.887 1)" font-size="18.93">p</text>
<text transform="translate(426.14 376.0) scale(0.842 1)" font-size="19.71">7</text>
<text transform="translate(458.09 376.7) scale(0.868 1)" font-size="19.58">8</text>
<text transform="translate(568.69 375.81) scale(0.924 1)" font-size="19.15">9</text>
<text transform="translate(254.14 64.52) scale(0.828 1)" font-size="22.5">A</text>
<text transform="translate(566.81 60.6) scale(0.823 1)" font-size="20.72">B</text>
<text transform="translate(481.56 122.48) scale(0.738 1)" font-size="22.11">LS</text>
<text transform="translate(245.83 306.8) scale(0.785 1)" font-size="21.16">T</text>
<text transform="translate(458.61 304.2) scale(0.715 1)" font-size="21.74">P</text>
<text transform="translate(580.64 306.6) scale(0.761 1)" font-size="21.16">T</text>
<text transform="translate(151.32 355.94) scale(0.793 1)" font-size="16.18">a</text>
<text transform="translate(669.09 357.7) scale(1.021 1)" font-size="14.11">b</text>
<path d="M402.6,362.3 H405.4 L402.4,368.1 H400.9 Z" fill="#111"/>
</g>
<!-- triangles -->
<g stroke="#000" stroke-width="1.8" stroke-linejoin="miter">
<path d="M273.8,48.6 H293.5 L283.6,65.2 Z" fill="#d6d6d6"/>
<path d="M310.2,47.8 L320.2,64.8 H299.8 Z" fill="#d6d6d6"/>
<path d="M515.3,48.1 H535.3 L525.3,64.8 Z" fill="#d6d6d6"/>
<path d="M551.9,47.2 L562,64.6 H541.9 Z" fill="#d6d6d6"/>
<path d="M173.7,342.4 L182.4,356.6 H165.2 Z" fill="#fff"/>
<path d="M184.2,340.9 H204.4 L194.5,358.5 Z" fill="#000" stroke="none"/>
<path d="M638.6,341.4 L647.5,356.1 H630.2 Z" fill="#fff"/>
<path d="M648.9,340.3 H669.3 L659.2,357.6 Z" fill="#000" stroke="none"/>
</g>
<!-- leaders -->
<g stroke="#222" stroke-width="0.8" fill="none">
<path d="M52.3,123.1 L141,153.5"/>
<path d="M52.2,301.9 L132.9,244.5"/>
<path d="M53.8,360.1 L128.2,301"/>
<path d="M327.7,34.2 L352,150"/>
<path d="M449.1,34.6 L416.4,86.4"/>
<path d="M242.2,359 L279.9,244"/>
<path d="M289.5,359 L319.7,244"/>
<path d="M325.3,357 L341,268.5"/>
<path d="M325.3,357 L344.7,194.8"/>
<path d="M351.4,356.5 L352.6,250"/>
<path d="M370.2,356.5 L364.9,272"/>
<path d="M398.6,357.3 L402.7,259.4"/>
<path d="M430.8,355.7 L417.7,264.7"/>
<path d="M458.8,354.5 L438.7,226.2"/>
<path d="M570.7,353.6 L553,241.8"/>
</g>

</svg>
</body></html>
